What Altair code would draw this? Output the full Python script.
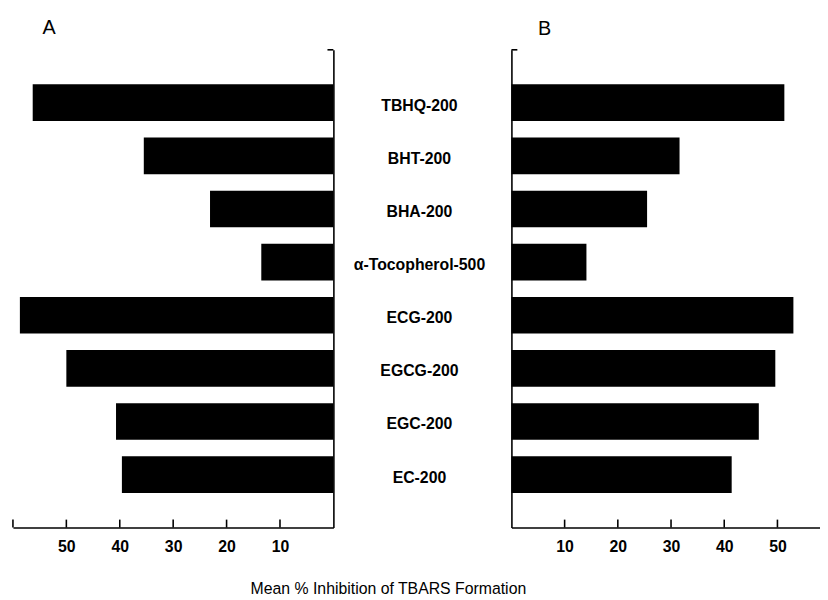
import altair as alt
import pandas as pd

categories = ["TBHQ-200", "BHT-200", "BHA-200", "α-Tocopherol-500",
              "ECG-200", "EGCG-200", "EGC-200", "EC-200"]
a_values = [56.3, 35.5, 23.1, 13.5, 58.7, 50.0, 40.7, 39.6]
b_values = [51.3, 31.6, 25.5, 14.1, 53.0, 49.6, 46.5, 41.4]
a_ticks = [10, 20, 30, 40, 50, 60]
a_labels = [10, 20, 30, 40, 50]
b_ticks = [10, 20, 30, 40, 50]
x_title = "Mean % Inhibition of TBARS Formation"

FONT = "Liberation Sans"
H = 483
A_W = 324
M_W = 178
B_W = 312

df = pd.DataFrame({"cat": categories, "A": a_values, "B": b_values})
ta = pd.DataFrame({"A": a_ticks})
tb = pd.DataFrame({"B": b_ticks})
one = pd.DataFrame({"k": [0]})

yscale = alt.Scale(type="band", domain=categories, paddingInner=0.31, paddingOuter=0.65)
xa = alt.Scale(domain=[0, 60], reverse=True, nice=False, zero=True)
xb = alt.Scale(domain=[0, 58], nice=False, zero=True)


def xaxis(vals):
    return alt.Axis(values=vals, ticks=False, grid=False, title=None,
                    domainColor="black", domainWidth=1.6, labelPadding=11,
                    labelFontSize=16, labelFontWeight="bold",
                    labelColor="black", labelFont=FONT)


def yaxis(orient):
    return alt.Axis(orient=orient, labels=False, ticks=False, grid=False,
                    title=None, domainColor="black", domainWidth=1.6)


# Panel A
barsA = alt.Chart(df).mark_bar(color="black").encode(
    x=alt.X("A:Q", scale=xa, axis=xaxis(a_labels)),
    y=alt.Y("cat:N", scale=yscale, sort=categories, axis=yaxis("right")),
)
ticksA = alt.Chart(ta).mark_rule(color="black", strokeWidth=1.6).encode(
    x=alt.X("A:Q", scale=xa, axis=xaxis(a_labels)),
    y=alt.value(H - 8), y2=alt.value(H),
)
capA = alt.Chart(one).mark_rule(color="black", strokeWidth=1.6).encode(
    x=alt.value(A_W - 6), x2=alt.value(A_W), y=alt.value(0)
)
letterA = alt.Chart(pd.DataFrame({"t": ["A"]})).mark_text(
    font=FONT, fontSize=20, align="left", baseline="alphabetic", color="black"
).encode(text="t:N", x=alt.value(30), y=alt.value(-16))
panelA = alt.layer(barsA, ticksA, capA, letterA).properties(width=A_W, height=H)

# Middle labels
mid = alt.Chart(df).mark_text(
    font=FONT, fontSize=16, fontWeight="bold", dy=3, color="black", align="center"
).encode(
    y=alt.Y("cat:N", scale=yscale, sort=categories, axis=None, bandPosition=0.5),
    text="cat:N",
    x=alt.value(86),
).properties(width=M_W, height=H)

# Panel B
barsB = alt.Chart(df).mark_bar(color="black").encode(
    x=alt.X("B:Q", scale=xb, axis=xaxis(b_ticks)),
    y=alt.Y("cat:N", scale=yscale, sort=categories, axis=yaxis("left")),
)
ticksB = alt.Chart(tb).mark_rule(color="black", strokeWidth=1.6).encode(
    x=alt.X("B:Q", scale=xb, axis=xaxis(b_ticks)),
    y=alt.value(H - 8), y2=alt.value(H),
)
capB = alt.Chart(one).mark_rule(color="black", strokeWidth=1.6).encode(
    x=alt.value(0), x2=alt.value(6), y=alt.value(0)
)
letterB = alt.Chart(pd.DataFrame({"t": ["B"]})).mark_text(
    font=FONT, fontSize=20, align="left", baseline="alphabetic", color="black"
).encode(text="t:N", x=alt.value(27), y=alt.value(-15))
panelB = alt.layer(barsB, ticksB, capB, letterB).properties(width=B_W, height=H)

chart = alt.hconcat(panelA, mid, panelB, spacing=0).properties(
    title=alt.TitleParams(x_title, orient="bottom", anchor="middle", dx=-28,
                          offset=27, fontSize=16, font=FONT,
                          fontWeight="normal", color="black"),
    padding={"left": 4, "top": 7, "right": 0, "bottom": 0},
).configure_view(stroke=None)

chart.save("out.html", embed_options={"renderer": "svg", "actions": False})
